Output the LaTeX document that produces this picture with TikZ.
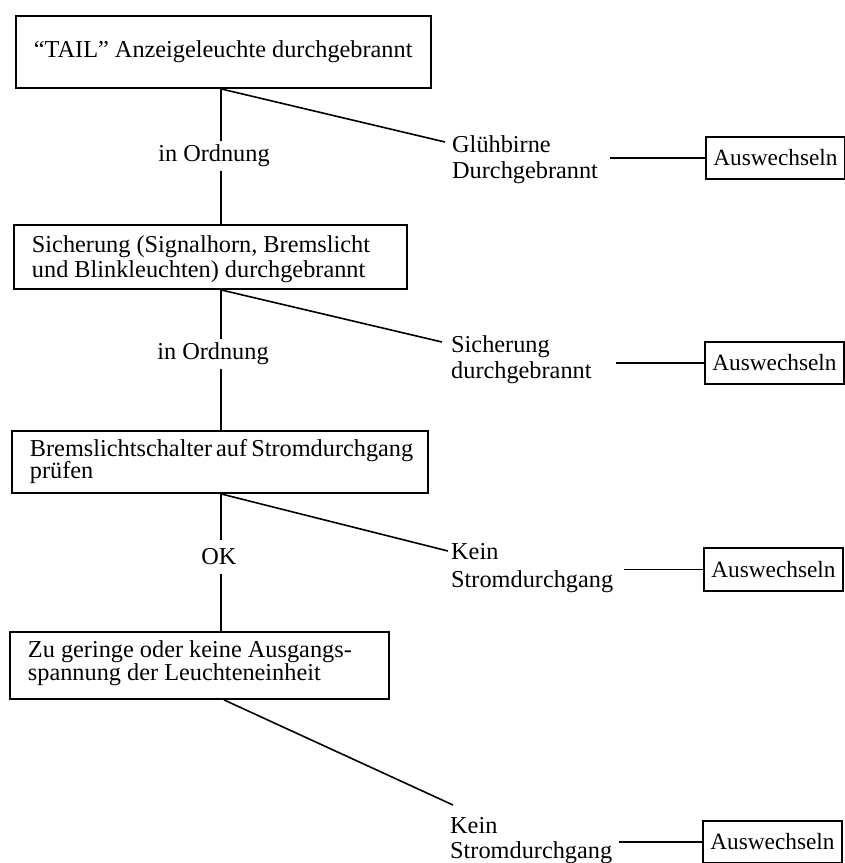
\documentclass[tikz,border=0pt]{standalone}
\usepackage{fontspec}
\setmainfont{Liberation Serif}
\newcommand\twoln[3]{\vtop{\baselineskip=#1\lineskiplimit=-50pt\hbox{#2}\hbox{#3}}}
\newcommand\boxln[4]{\vtop{\baselineskip=#1\lineskiplimit=-50pt\hbox to #2{#3\hfil}\hbox to #2{#4\hfil}}}
\begin{document}
\begin{tikzpicture}[x=1pt,y=-1pt,
  every node/.style={font=\fontsize{24.3}{26}\selectfont},
  mainbox/.style={draw, line width=1.9pt, anchor=north west, inner xsep=18pt, inner ysep=0pt},
  auswbox/.style={draw, line width=1.9pt, anchor=north west, minimum width=139pt, minimum height=42pt, inner sep=0pt, font=\fontsize{23.3}{25}\selectfont},
  outlabel/.style={anchor=base west, inner sep=0pt},
  branch/.style={fill=white, inner xsep=2pt, inner ysep=4pt},
  conn/.style={line width=1.6pt}]
\useasboundingbox (0,0) rectangle (845,863);

% main boxes
\node[mainbox, text height=42pt, text depth=30pt] (b1) at (15,15)
  {\hbox to 379pt{“TAIL” Anzeigeleuchte durchgebrannt\hfil}};
\node[mainbox, text height=28pt, text depth=36pt] (b2) at (13,224)
  {\boxln{25pt}{357pt}{Sicherung (Signalhorn, Bremslicht}{und Blinkleuchten) durchgebrannt}};
\node[mainbox, text height=26pt, text depth=36pt] (b3) at (11,430)
  {\boxln{22pt}{380pt}{Bremslichtschalter auf Stromdurchgang}{prüfen}};
\node[mainbox, text height=26pt, text depth=41pt] (b4) at (9,631)
  {\boxln{23pt}{343pt}{Zu geringe oder keine Ausgangs-}{spannung der Leuchteneinheit}};

% outcome labels
\node[outlabel] (l1) at (452,152) {\twoln{26pt}{Glühbirne}{Durchgebrannt}};
\node[outlabel] (l2) at (451,352) {\twoln{26pt}{Sicherung}{durchgebrannt}};
\node[outlabel] (l3) at (451,559) {\twoln{28pt}{Kein}{Stromdurchgang}};
\node[outlabel] (l4) at (450,833) {\twoln{25pt}{Kein}{Stromdurchgang}};

% replace boxes
\node[auswbox] (a1) at (705,136) {Auswechseln};
\node[auswbox] (a2) at (704,341) {Auswechseln};
\node[auswbox, minimum height=43pt] (a3) at (703,547) {Auswechseln};
\node[auswbox] (a4) at (702,820) {Auswechseln};

% free ends of the diagonals
\coordinate (vx) at (221,0);
\coordinate (e1) at (445,142);
\coordinate (e2) at (442,342);
\coordinate (e3) at (448,551);
\coordinate (e4) at (453,805);

% vertical flow
\draw[conn] (b1.south -| vx) -- (b2.north -| vx);
\draw[conn] (b2.south -| vx) -- (b3.north -| vx);
\draw[conn] (b3.south -| vx) -- (b4.north -| vx);

% branch labels
\node[branch] (o1) at (214,156) {in Ordnung};
\node[branch] (o2) at (213,354) {in Ordnung};
\node[branch, inner ysep=9pt] (o3) at (219,557) {OK};

% diagonals
\draw[conn] (b1.south -| vx) -- (e1);
\draw[conn] (b2.south -| vx) -- (e2);
\draw[conn] (b3.south -| vx) -- (e3);
\draw[conn] ([xshift=3pt]b4.south -| vx) -- (e4);

% horizontal connectors
\draw[conn] ([xshift=12pt]l1.east |- a1.west) -- (a1.west);
\draw[conn] ([xshift=24pt]l2.east |- a2.west) -- (a2.west);
\draw[conn] ([xshift=11pt]l3.east |- a3.west) -- (a3.west);
\draw[conn] ([xshift=7pt]l4.east |- a4.west) -- (a4.west);
\end{tikzpicture}
\end{document}
